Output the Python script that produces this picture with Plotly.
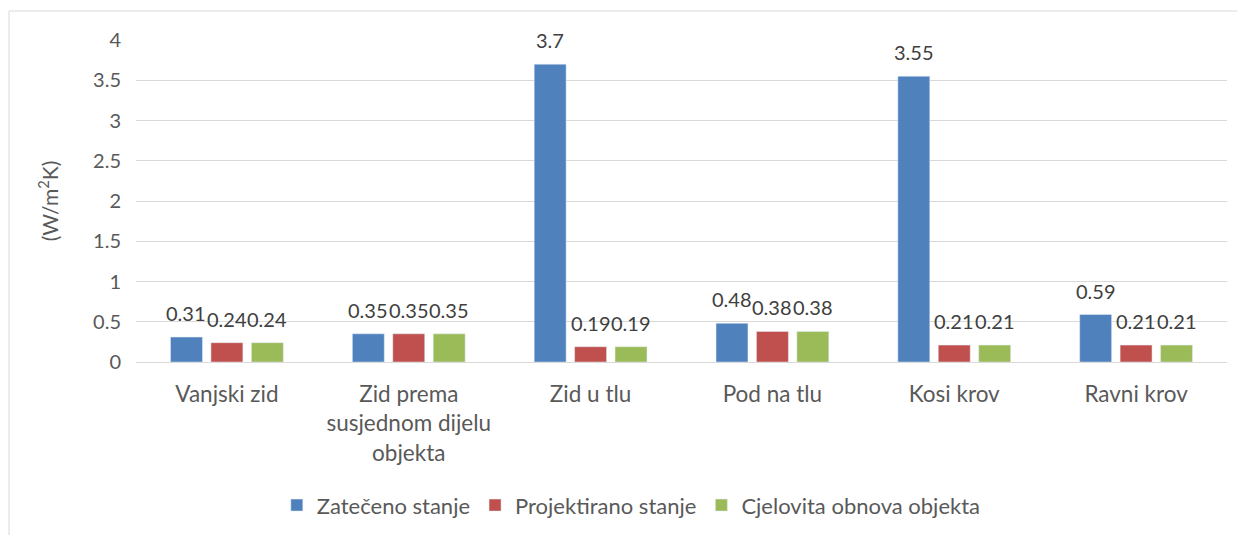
import plotly.graph_objects as go

categories = ["Vanjski zid", "Zid prema<br>susjednom dijelu<br>objekta", "Zid u tlu",
              "Pod na tlu", "Kosi krov", "Ravni krov"]
zateceno = [0.31, 0.35, 3.7, 0.48, 3.55, 0.59]
projektirano = [0.24, 0.35, 0.19, 0.38, 0.21, 0.21]
cjelovita = [0.24, 0.35, 0.19, 0.38, 0.21, 0.21]
y_ticks = [0, 0.5, 1, 1.5, 2, 2.5, 3, 3.5, 4]

series = [
    ("Zatečeno stanje", zateceno, "#4F81BD"),
    ("Projektirano stanje", projektirano, "#C0504D"),
    ("Cjelovita obnova objekta", cjelovita, "#9BBB59"),
]

FONT = "Lato"
GRAY = "#595959"
# page body has an 8px margin, so the figure is shrunk/offset accordingly
W, H = 1237, 527
ML, MR, MT, MB = 128, 18, 32, 173
BARGAP = 0.333
plot_w = W - ML - MR
slot = (1 - BARGAP) * plot_w / len(categories) / len(series)

fig = go.Figure()
for i, (name, vals, color) in enumerate(series):
    fig.add_trace(go.Bar(x=categories, y=vals, name=name, marker_color=color))
    for cat, v in zip(categories, vals):
        fig.add_annotation(x=cat, y=v, text=f"{v:g}", showarrow=False,
                           xshift=(i - 1) * slot, yshift=10, yanchor="bottom",
                           font=dict(family=FONT, size=20, color="#404040"))

fig.update_layout(
    width=W, height=H,
    margin=dict(l=ML, r=MR, t=MT, b=MB, autoexpand=False),
    plot_bgcolor="white", paper_bgcolor="white",
    font=dict(family=FONT, size=20, color=GRAY),
    barmode="group", bargap=BARGAP, bargroupgap=0.21,
    legend=dict(orientation="h", x=0.454, xanchor="center", y=-0.445, yanchor="middle",
                font=dict(family=FONT, size=22, color=GRAY), traceorder="normal"),
    yaxis=dict(range=[0, 4], tickvals=y_ticks, ticktext=[f"{t:g}" for t in y_ticks],
               gridcolor="#d9d9d9", zeroline=False, showline=False, ticklabelstandoff=14,
               title=dict(text="(W/m<sup>2</sup>K)", font=dict(family=FONT, size=21, color=GRAY),
                          standoff=28)),
    xaxis=dict(showline=True, linecolor="#d9d9d9", ticklabelstandoff=12,
               tickfont=dict(family=FONT, size=22.5)),
    shapes=[dict(type="rect", xref="paper", yref="paper",
                 x0=(1 - ML) / plot_w, x1=1.05, y0=-0.6, y1=1 + (MT - 3) / 322,
                 line=dict(color="#d9d9d9", width=1), fillcolor="rgba(0,0,0,0)", layer="below")],
)

fig.write_html("out.html")
